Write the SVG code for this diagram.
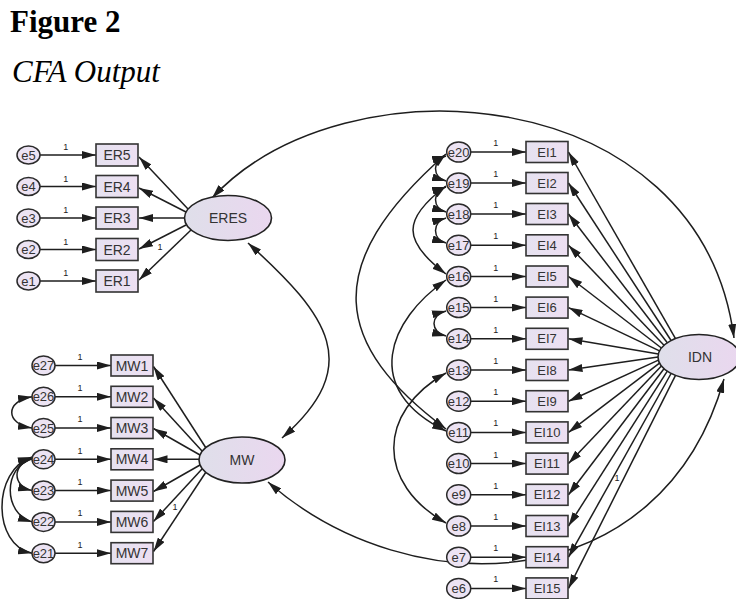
<svg xmlns="http://www.w3.org/2000/svg" width="736" height="599" viewBox="0 0 736 599">
  <style>
    .title { font-family: "Liberation Serif", "Times New Roman", serif; font-size: 31px; fill: #000; }
    .lbl { font-family: "Liberation Sans", Arial, sans-serif; font-size: 13px; fill: #333; text-anchor: middle; dominant-baseline: central; }
    .big { font-size: 14px; }
    .one { font-family: "Liberation Sans", Arial, sans-serif; font-size: 9px; fill: #222; text-anchor: middle; }
    .obs { fill: url(#boxFill); stroke: #333; stroke-width: 1.6; }
    .err { fill: #ece3f3; stroke: #2a2a2a; stroke-width: 1.5; }
    .lat { fill: url(#latFill); stroke: #222; stroke-width: 1.6; }
    .path { fill: none; stroke: #1e1e1e; stroke-width: 1.5; marker-end: url(#ah); }
    .cov { fill: none; stroke: #1e1e1e; stroke-width: 1.5; marker-start: url(#ah); marker-end: url(#ah); }
  </style>
  <defs>
    <marker id="ah" viewBox="0 0 14 8" refX="14" refY="4" markerWidth="14" markerHeight="8" markerUnits="userSpaceOnUse" orient="auto-start-reverse">
      <path d="M0,0 L14,4 L0,8 z" fill="#1e1e1e"/>
    </marker>
    <linearGradient id="latFill" x1="0" y1="0" x2="1" y2="0">
      <stop offset="0" stop-color="#dfdfea"/>
      <stop offset="1" stop-color="#ead7ef"/>
    </linearGradient>
    <linearGradient id="boxFill" x1="0" y1="0" x2="1" y2="0">
      <stop offset="0" stop-color="#e6e2f0"/>
      <stop offset="1" stop-color="#eddff2"/>
    </linearGradient>
  </defs>

  <!-- heading -->
  <text class="title" x="10" y="32" font-weight="bold">Figure 2</text>
  <text class="title" x="12" y="82" font-style="italic">CFA Output</text>

  <g id="connectors">
    <!-- error terms to indicators -->
    <line class="path" x1="40" y1="155" x2="96" y2="155"/>
    <line class="path" x1="40" y1="186.5" x2="96" y2="186.5"/>
    <line class="path" x1="40" y1="218" x2="96" y2="218"/>
    <line class="path" x1="40" y1="249.5" x2="96" y2="249.5"/>
    <line class="path" x1="40" y1="281" x2="96" y2="281"/>

    <line class="path" x1="55" y1="365.5" x2="111" y2="365.5"/>
    <line class="path" x1="55" y1="396.8" x2="111" y2="396.8"/>
    <line class="path" x1="55" y1="428" x2="111" y2="428"/>
    <line class="path" x1="55" y1="459.3" x2="111" y2="459.3"/>
    <line class="path" x1="55" y1="490.6" x2="111" y2="490.6"/>
    <line class="path" x1="55" y1="521.9" x2="111" y2="521.9"/>
    <line class="path" x1="55" y1="553.2" x2="111" y2="553.2"/>

    <line class="path" x1="470.7" y1="152" x2="526" y2="152"/>
    <line class="path" x1="470.7" y1="183" x2="526" y2="183"/>
    <line class="path" x1="470.7" y1="214" x2="526" y2="214"/>
    <line class="path" x1="470.7" y1="245.3" x2="526" y2="245.3"/>
    <line class="path" x1="470.7" y1="276.5" x2="526" y2="276.5"/>
    <line class="path" x1="470.7" y1="307.6" x2="526" y2="307.6"/>
    <line class="path" x1="470.7" y1="338.8" x2="526" y2="338.8"/>
    <line class="path" x1="470.7" y1="370" x2="526" y2="370"/>
    <line class="path" x1="470.7" y1="401.2" x2="526" y2="401.2"/>
    <line class="path" x1="470.7" y1="432.4" x2="526" y2="432.4"/>
    <line class="path" x1="470.7" y1="463.6" x2="526" y2="463.6"/>
    <line class="path" x1="470.7" y1="494.8" x2="526" y2="494.8"/>
    <line class="path" x1="470.7" y1="526" x2="526" y2="526"/>
    <line class="path" x1="470.7" y1="557.2" x2="526" y2="557.2"/>
    <line class="path" x1="470.7" y1="588.4" x2="526" y2="588.4"/>

    <!-- ERES loadings -->
    <line class="path" x1="188" y1="209" x2="139" y2="157"/>
    <line class="path" x1="186" y1="212" x2="139" y2="188"/>
    <line class="path" x1="184.5" y1="218" x2="139" y2="218"/>
    <line class="path" x1="186" y1="225" x2="139" y2="249"/>
    <line class="path" x1="191" y1="230" x2="139" y2="280"/>

    <!-- MW loadings -->
    <line class="path" x1="206" y1="448" x2="153.5" y2="366.5"/>
    <line class="path" x1="202" y1="451" x2="153.5" y2="398"/>
    <line class="path" x1="200" y1="455" x2="153.5" y2="428.5"/>
    <line class="path" x1="199" y1="459.3" x2="153.5" y2="459.3"/>
    <line class="path" x1="200" y1="465" x2="153.5" y2="491.5"/>
    <line class="path" x1="202" y1="469" x2="153.5" y2="521.5"/>
    <line class="path" x1="206" y1="472" x2="153.5" y2="551.5"/>

    <!-- IDN loadings -->
    <line class="path" x1="675.5" y1="338.6" x2="568.5" y2="152"/>
    <line class="path" x1="671.1" y1="340.5" x2="568.5" y2="183"/>
    <line class="path" x1="667.3" y1="342.8" x2="568.5" y2="214"/>
    <line class="path" x1="664" y1="345.3" x2="568.5" y2="245.3"/>
    <line class="path" x1="661.4" y1="348" x2="568.5" y2="276.5"/>
    <line class="path" x1="659.5" y1="350.9" x2="568.5" y2="307.6"/>
    <line class="path" x1="658.4" y1="353.9" x2="568.5" y2="338.8"/>
    <line class="path" x1="658" y1="357" x2="568.5" y2="370"/>
    <line class="path" x1="658.4" y1="360.1" x2="568.5" y2="401.2"/>
    <line class="path" x1="659.5" y1="363.1" x2="568.5" y2="432.4"/>
    <line class="path" x1="661.4" y1="366" x2="568.5" y2="463.6"/>
    <line class="path" x1="664" y1="368.7" x2="568.5" y2="494.8"/>
    <line class="path" x1="667.3" y1="371.2" x2="568.5" y2="526"/>
    <line class="path" x1="671.1" y1="373.5" x2="568.5" y2="557.2"/>
    <line class="path" x1="675.5" y1="375.4" x2="568.5" y2="588.4"/>

    <!-- factor covariances -->
    <path class="cov" d="M248,243 C329.4,316.7 364.5,365.4 282,438"/>
    <path class="cov" d="M212,198 C345,55 700,80 734,338"/>
    <path class="cov" d="M268,482 C410.5,607.4 661.9,599.8 724,379"/>

    <!-- MW error covariances -->
    <path class="cov" d="M32,396.8 C5,401 5,424 32,428"/>
    <path class="cov" d="M32,459 C12,464 12,486 32,490.6"/>
    <path class="cov" d="M32,458 C3,468 3,513 32,521.9"/>
    <path class="cov" d="M32,457 C-8,470 -8,545 32,553.2"/>

    <!-- IDN error covariances -->
    <path class="cov" d="M446,156 C432,160 432,177 446,181"/>
    <path class="cov" d="M446,187 C432,191 432,208 446,212"/>
    <path class="cov" d="M446,218 C432,222 432,239 446,243"/>
    <path class="cov" d="M446,311 C430,315 430,332 446,336"/>
    <path class="cov" d="M446,186 C402,219 402,241 446,274"/>
    <path class="cov" d="M446,154 C318.5,266 334,345 446,429"/>
    <path class="cov" d="M446,280 C388.6,319.9 360.5,389.1 446,431"/>
    <path class="cov" d="M446,373 C376.4,412.2 376.4,483.8 446,523"/>

    <!-- fixed parameters -->
    <text class="one" x="65.7" y="150">1</text>
    <text class="one" x="65.7" y="181.5">1</text>
    <text class="one" x="65.7" y="213">1</text>
    <text class="one" x="65.7" y="244.5">1</text>
    <text class="one" x="65.7" y="276">1</text>
    <text class="one" x="160" y="250">1</text>

    <text class="one" x="80" y="360">1</text>
    <text class="one" x="80" y="391">1</text>
    <text class="one" x="80" y="422">1</text>
    <text class="one" x="80" y="453.5">1</text>
    <text class="one" x="80" y="485">1</text>
    <text class="one" x="80" y="516">1</text>
    <text class="one" x="80" y="547.5">1</text>
    <text class="one" x="175" y="510">1</text>

    <text class="one" x="495.7" y="146">1</text>
    <text class="one" x="495.7" y="177">1</text>
    <text class="one" x="495.7" y="208">1</text>
    <text class="one" x="495.7" y="239.3">1</text>
    <text class="one" x="495.7" y="270.5">1</text>
    <text class="one" x="495.7" y="301.6">1</text>
    <text class="one" x="495.7" y="332.8">1</text>
    <text class="one" x="495.7" y="364">1</text>
    <text class="one" x="495.7" y="395.2">1</text>
    <text class="one" x="495.7" y="426.4">1</text>
    <text class="one" x="495.7" y="457.6">1</text>
    <text class="one" x="495.7" y="488.8">1</text>
    <text class="one" x="495.7" y="520">1</text>
    <text class="one" x="495.7" y="551.2">1</text>
    <text class="one" x="495.7" y="582.4">1</text>
    <text class="one" x="617" y="481">1</text>
  </g>

  <!-- latent factors -->
  <g id="ERES"><ellipse class="lat" cx="228" cy="218" rx="43.5" ry="22.5"/><text class="lbl big" x="228" y="218">ERES</text></g>
  <g id="MW"><ellipse class="lat" cx="242" cy="460" rx="43" ry="23"/><text class="lbl big" x="242" y="460">MW</text></g>
  <g id="IDN"><ellipse class="lat" cx="699" cy="357" rx="41" ry="22.5"/><text class="lbl big" x="700" y="357">IDN</text></g>

  <!-- ERES indicators -->
  <g id="ER5"><rect class="obs" x="96" y="144" width="42" height="22"/><text class="lbl big" x="117" y="155">ER5</text></g>
  <g id="ER4"><rect class="obs" x="96" y="175.5" width="42" height="22"/><text class="lbl big" x="117" y="186.5">ER4</text></g>
  <g id="ER3"><rect class="obs" x="96" y="207" width="42" height="22"/><text class="lbl big" x="117" y="218">ER3</text></g>
  <g id="ER2"><rect class="obs" x="96" y="238.5" width="42" height="22"/><text class="lbl big" x="117" y="249.5">ER2</text></g>
  <g id="ER1"><rect class="obs" x="96" y="270" width="42" height="22"/><text class="lbl big" x="117" y="281">ER1</text></g>
  <g id="e5"><ellipse class="err" cx="28.5" cy="155" rx="11.5" ry="9"/><text class="lbl" x="28.5" y="155">e5</text></g>
  <g id="e4"><ellipse class="err" cx="28.5" cy="186.5" rx="11.5" ry="9"/><text class="lbl" x="28.5" y="186.5">e4</text></g>
  <g id="e3"><ellipse class="err" cx="28.5" cy="218" rx="11.5" ry="9"/><text class="lbl" x="28.5" y="218">e3</text></g>
  <g id="e2"><ellipse class="err" cx="28.5" cy="249.5" rx="11.5" ry="9"/><text class="lbl" x="28.5" y="249.5">e2</text></g>
  <g id="e1"><ellipse class="err" cx="28.5" cy="281" rx="11.5" ry="9"/><text class="lbl" x="28.5" y="281">e1</text></g>

  <!-- MW indicators -->
  <g id="MW1"><rect class="obs" x="111" y="355" width="42" height="21"/><text class="lbl big" x="132" y="365.5">MW1</text></g>
  <g id="MW2"><rect class="obs" x="111" y="386.3" width="42" height="21"/><text class="lbl big" x="132" y="396.8">MW2</text></g>
  <g id="MW3"><rect class="obs" x="111" y="417.5" width="42" height="21"/><text class="lbl big" x="132" y="428">MW3</text></g>
  <g id="MW4"><rect class="obs" x="111" y="448.8" width="42" height="21"/><text class="lbl big" x="132" y="459.3">MW4</text></g>
  <g id="MW5"><rect class="obs" x="111" y="480.1" width="42" height="21"/><text class="lbl big" x="132" y="490.6">MW5</text></g>
  <g id="MW6"><rect class="obs" x="111" y="511.4" width="42" height="21"/><text class="lbl big" x="132" y="521.9">MW6</text></g>
  <g id="MW7"><rect class="obs" x="111" y="542.7" width="42" height="21"/><text class="lbl big" x="132" y="553.2">MW7</text></g>
  <g id="e27"><ellipse class="err" cx="43.5" cy="365.5" rx="11.5" ry="9.5"/><text class="lbl" x="43.5" y="365.5">e27</text></g>
  <g id="e26"><ellipse class="err" cx="43.5" cy="396.8" rx="11.5" ry="9.5"/><text class="lbl" x="43.5" y="396.8">e26</text></g>
  <g id="e25"><ellipse class="err" cx="43.5" cy="428" rx="11.5" ry="9.5"/><text class="lbl" x="43.5" y="428">e25</text></g>
  <g id="e24"><ellipse class="err" cx="43.5" cy="459.3" rx="11.5" ry="9.5"/><text class="lbl" x="43.5" y="459.3">e24</text></g>
  <g id="e23"><ellipse class="err" cx="43.5" cy="490.6" rx="11.5" ry="9.5"/><text class="lbl" x="43.5" y="490.6">e23</text></g>
  <g id="e22"><ellipse class="err" cx="43.5" cy="521.9" rx="11.5" ry="9.5"/><text class="lbl" x="43.5" y="521.9">e22</text></g>
  <g id="e21"><ellipse class="err" cx="43.5" cy="553.2" rx="11.5" ry="9.5"/><text class="lbl" x="43.5" y="553.2">e21</text></g>

  <!-- IDN indicators -->
  <g id="EI1"><rect class="obs" x="526" y="141.5" width="42" height="21"/><text class="lbl" x="547" y="152">EI1</text></g>
  <g id="EI2"><rect class="obs" x="526" y="172.5" width="42" height="21"/><text class="lbl" x="547" y="183">EI2</text></g>
  <g id="EI3"><rect class="obs" x="526" y="203.5" width="42" height="21"/><text class="lbl" x="547" y="214">EI3</text></g>
  <g id="EI4"><rect class="obs" x="526" y="234.8" width="42" height="21"/><text class="lbl" x="547" y="245.3">EI4</text></g>
  <g id="EI5"><rect class="obs" x="526" y="266" width="42" height="21"/><text class="lbl" x="547" y="276.5">EI5</text></g>
  <g id="EI6"><rect class="obs" x="526" y="297.1" width="42" height="21"/><text class="lbl" x="547" y="307.6">EI6</text></g>
  <g id="EI7"><rect class="obs" x="526" y="328.3" width="42" height="21"/><text class="lbl" x="547" y="338.8">EI7</text></g>
  <g id="EI8"><rect class="obs" x="526" y="359.5" width="42" height="21"/><text class="lbl" x="547" y="370">EI8</text></g>
  <g id="EI9"><rect class="obs" x="526" y="390.7" width="42" height="21"/><text class="lbl" x="547" y="401.2">EI9</text></g>
  <g id="EI10"><rect class="obs" x="526" y="421.9" width="42" height="21"/><text class="lbl" x="547" y="432.4">EI10</text></g>
  <g id="EI11"><rect class="obs" x="526" y="453.1" width="42" height="21"/><text class="lbl" x="547" y="463.6">EI11</text></g>
  <g id="EI12"><rect class="obs" x="526" y="484.3" width="42" height="21"/><text class="lbl" x="547" y="494.8">EI12</text></g>
  <g id="EI13"><rect class="obs" x="526" y="515.5" width="42" height="21"/><text class="lbl" x="547" y="526">EI13</text></g>
  <g id="EI14"><rect class="obs" x="526" y="546.7" width="42" height="21"/><text class="lbl" x="547" y="557.2">EI14</text></g>
  <g id="EI15"><rect class="obs" x="526" y="577.9" width="42" height="21"/><text class="lbl" x="547" y="588.4">EI15</text></g>
  <g id="e20"><ellipse class="err" cx="458.7" cy="152" rx="12" ry="10"/><text class="lbl" x="458.7" y="152">e20</text></g>
  <g id="e19"><ellipse class="err" cx="458.7" cy="183" rx="12" ry="10"/><text class="lbl" x="458.7" y="183">e19</text></g>
  <g id="e18"><ellipse class="err" cx="458.7" cy="214" rx="12" ry="10"/><text class="lbl" x="458.7" y="214">e18</text></g>
  <g id="e17"><ellipse class="err" cx="458.7" cy="245.3" rx="12" ry="10"/><text class="lbl" x="458.7" y="245.3">e17</text></g>
  <g id="e16"><ellipse class="err" cx="458.7" cy="276.5" rx="12" ry="10"/><text class="lbl" x="458.7" y="276.5">e16</text></g>
  <g id="e15"><ellipse class="err" cx="458.7" cy="307.6" rx="12" ry="10"/><text class="lbl" x="458.7" y="307.6">e15</text></g>
  <g id="e14"><ellipse class="err" cx="458.7" cy="338.8" rx="12" ry="10"/><text class="lbl" x="458.7" y="338.8">e14</text></g>
  <g id="e13"><ellipse class="err" cx="458.7" cy="370" rx="12" ry="10"/><text class="lbl" x="458.7" y="370">e13</text></g>
  <g id="e12"><ellipse class="err" cx="458.7" cy="401.2" rx="12" ry="10"/><text class="lbl" x="458.7" y="401.2">e12</text></g>
  <g id="e11"><ellipse class="err" cx="458.7" cy="432.4" rx="12" ry="10"/><text class="lbl" x="458.7" y="432.4">e11</text></g>
  <g id="e10"><ellipse class="err" cx="458.7" cy="463.6" rx="12" ry="10"/><text class="lbl" x="458.7" y="463.6">e10</text></g>
  <g id="e9"><ellipse class="err" cx="458.7" cy="494.8" rx="12" ry="10"/><text class="lbl" x="458.7" y="494.8">e9</text></g>
  <g id="e8"><ellipse class="err" cx="458.7" cy="526" rx="12" ry="10"/><text class="lbl" x="458.7" y="526">e8</text></g>
  <g id="e7"><ellipse class="err" cx="458.7" cy="557.2" rx="12" ry="10"/><text class="lbl" x="458.7" y="557.2">e7</text></g>
  <g id="e6"><ellipse class="err" cx="458.7" cy="588.4" rx="12" ry="10"/><text class="lbl" x="458.7" y="588.4">e6</text></g>
</svg>
